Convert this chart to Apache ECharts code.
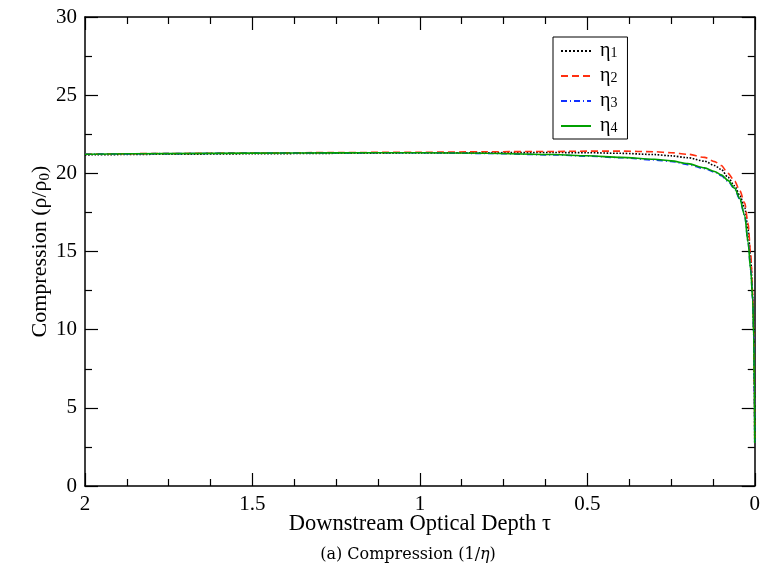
<!DOCTYPE html>
<html>
<head>
<meta charset="utf-8">
<script src="https://cdn.jsdelivr.net/npm/echarts@6/dist/echarts.min.js"></script>
<style>
html, body { margin: 0; padding: 0; background: #fff; }
#chart { width: 763px; height: 568px; }
</style>
</head>
<body>
<div id="chart"></div>
<script>
var tau = [2, 1.75, 1.5, 1.25, 1, 0.8, 0.6, 0.5, 0.4, 0.3, 0.25, 0.2, 0.15, 0.12, 0.1, 0.08, 0.06, 0.045, 0.03, 0.02, 0.012, 0.006, 0.003, 0.001, 0];
var eta1 = [21.18, 21.22, 21.25, 21.28, 21.3, 21.32, 21.33, 21.32, 21.28, 21.2, 21.12, 21.0, 20.78, 20.5, 20.25, 19.75, 19.2, 18.6, 17.8, 16.4, 14.5, 12.1, 10.0, 6.0, 2.75];
var eta2 = [21.22, 21.27, 21.3, 21.33, 21.35, 21.38, 21.4, 21.42, 21.42, 21.38, 21.32, 21.22, 21.02, 20.75, 20.5, 20.0, 19.5, 18.9, 18.1, 16.8, 14.8, 12.3, 10.0, 6.0, 2.75];
var eta3 = [21.22, 21.26, 21.29, 21.31, 21.32, 21.27, 21.18, 21.1, 21.0, 20.85, 20.76, 20.56, 20.3, 20.08, 19.85, 19.5, 19.0, 18.35, 17.3, 15.6, 13.8, 11.9, 9.6, 6.0, 2.75];
var eta4 = [21.22, 21.26, 21.29, 21.31, 21.32, 21.28, 21.2, 21.12, 21.02, 20.9, 20.8, 20.62, 20.35, 20.12, 19.9, 19.55, 19.05, 18.4, 17.3, 15.6, 13.8, 11.9, 9.5, 6.0, 2.75];
var names = ['η1', 'η2', 'η3', 'η4'];
var colors = ['#000000', '#ff3010', '#1030ff', '#00a000'];
var dashes = ['dotted', [7, 4], [6, 3, 1, 3], 'solid'];

var FONT = 'Liberation Serif';
var chart = echarts.init(document.getElementById('chart'));

function pairs(vals) {
  return tau.map(function (t, i) { return [t, vals[i]]; });
}

var axisCommon = {
  axisLine: { show: true, onZero: false, lineStyle: { color: '#000', width: 1.5 } },
  axisTick: { show: true, inside: true, length: 13, lineStyle: { color: '#000', width: 1.2 } },
  minorTick: { show: true, length: 7, lineStyle: { color: '#000', width: 1.2 } },
  splitLine: { show: false },
  minorSplitLine: { show: false }
};

var option = {
  backgroundColor: '#fff',
  animation: false,
  title: {
    text: '(a) Compression (1/{i|η})',
    left: 403,
    textAlign: 'center',
    top: 542,
    textStyle: {
      fontFamily: 'DejaVu Serif', fontSize: 16, fontWeight: 'normal', color: '#000',
      rich: { i: { fontFamily: 'DejaVu Serif', fontSize: 16, fontStyle: 'italic', color: '#000' } }
    }
  },
  grid: { left: 85, right: 8, top: 17, bottom: 82 },
  legend: {
    data: names,
    orient: 'vertical',
    left: 553,
    top: 37,
    padding: [2, 10, 3, 7],
    itemWidth: 30,
    itemHeight: 14,
    itemGap: 3,
    borderColor: '#000',
    borderWidth: 1,
    itemStyle: { opacity: 0 },
    formatter: function (name) { return '{a|η}{s|' + name.slice(1) + '}'; },
    textStyle: {
      fontFamily: FONT, color: '#000',
      rich: {
        a: { fontFamily: FONT, fontSize: 20, color: '#000', lineHeight: 18, padding: [0, 0, 0, 4] },
        s: { fontFamily: FONT, fontSize: 14, color: '#000', verticalAlign: 'bottom', lineHeight: 18, padding: [7, 0, 0, 0] }
      }
    }
  },
  xAxis: [
    Object.assign({}, axisCommon, {
      type: 'value', min: 0, max: 2, interval: 0.5, inverse: true,
      minorTick: Object.assign({}, axisCommon.minorTick, { splitNumber: 4 }),
      axisLabel: { fontFamily: FONT, fontSize: 21, color: '#000', margin: 8 },
      name: 'Downstream Optical Depth τ',
      nameLocation: 'middle',
      nameGap: 27,
      nameMoveOverlap: false,
      nameTextStyle: { fontFamily: FONT, fontSize: 22.5, color: '#000' }
    }),
    Object.assign({}, axisCommon, {
      type: 'value', min: 0, max: 2, interval: 0.5, inverse: true, position: 'top',
      minorTick: Object.assign({}, axisCommon.minorTick, { splitNumber: 4 }),
      axisLabel: { show: false }
    })
  ],
  yAxis: [
    Object.assign({}, axisCommon, {
      type: 'value', min: 0, max: 30, interval: 5,
      minorTick: Object.assign({}, axisCommon.minorTick, { splitNumber: 2 }),
      axisLabel: { fontFamily: FONT, fontSize: 21, color: '#000', margin: 8 },
      name: 'Compression (ρ/ρ{s|0})',
      nameLocation: 'middle',
      nameRotate: 90,
      nameGap: 32,
      nameMoveOverlap: false,
      nameTextStyle: {
        fontFamily: FONT, fontSize: 22, color: '#000',
        rich: { s: { fontFamily: FONT, fontSize: 15, color: '#000', padding: [10, 0, 0, 0] } }
      }
    }),
    Object.assign({}, axisCommon, {
      type: 'value', min: 0, max: 30, interval: 5, position: 'right',
      minorTick: Object.assign({}, axisCommon.minorTick, { splitNumber: 2 }),
      axisLabel: { show: false }
    })
  ],
  series: [eta1, eta2, eta3, eta4].map(function (vals, i) {
    return {
      name: names[i],
      type: 'line',
      data: pairs(vals),
      symbol: 'none',
      smooth: 0.3,
      smoothMonotone: 'x',
      color: colors[i],
      lineStyle: { color: colors[i], width: 1.6, type: dashes[i] }
    };
  })
};

chart.setOption(option);
</script>
</body>
</html>
